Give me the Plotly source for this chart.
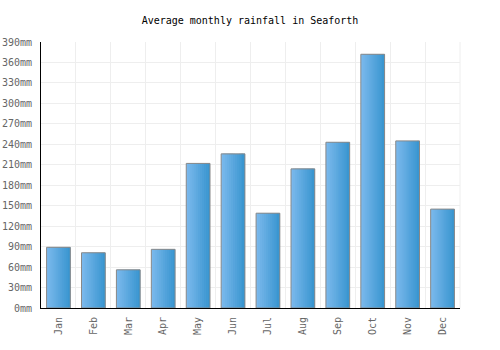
import plotly.graph_objects as go

months = ["Jan", "Feb", "Mar", "Apr", "May", "Jun", "Jul", "Aug", "Sep", "Oct", "Nov", "Dec"]
rainfall = [89, 81, 56, 86, 212, 226, 139, 204, 243, 372, 245, 145]
y_ticks = list(range(0, 391, 30))
y_labels = [f"{v}mm" for v in y_ticks]

BAR_W = 0.68
N = 12
c0 = (122, 184, 236)
c1 = (58, 150, 208)

fig = go.Figure()
sw = BAR_W / N
for i in range(N):
    t = i / (N - 1)
    col = tuple(round(c0[k] + (c1[k] - c0[k]) * t) for k in range(3))
    w = sw * 2 if i < N - 1 else sw
    fig.add_trace(go.Bar(
        x=months, y=rainfall,
        width=w, offset=-BAR_W / 2 + i * sw,
        marker=dict(color=f"rgb{col}", line=dict(width=0)),
        hoverinfo="skip", showlegend=False,
    ))
fig.add_trace(go.Bar(
    x=months, y=rainfall, width=BAR_W, offset=-BAR_W / 2,
    marker=dict(color="rgba(0,0,0,0)", line=dict(color="#888888", width=1)),
    showlegend=False,
))

font = "DejaVu Sans Mono, monospace"
fig.update_layout(
    width=500, height=350,
    margin=dict(l=41, r=40, t=42, b=42),
    barmode="overlay",
    plot_bgcolor="white", paper_bgcolor="white",
    title=dict(text="Average monthly rainfall in Seaforth", x=0.5, xanchor="center",
               y=1 - 20 / 350, yanchor="middle",
               font=dict(family=font, size=10, color="#000000")),
    font=dict(family=font, size=10, color="#666666"),
)
fig.update_xaxes(
    type="category", tickson="boundaries", showgrid=True, gridcolor="#eeeeee",
    showline=True, linecolor="#000000", linewidth=1, ticks="",
    tickangle=-90, ticklabelstandoff=4, automargin=False,
)
fig.update_yaxes(
    range=[0, 390], tickvals=y_ticks, ticktext=y_labels,
    showgrid=True, gridcolor="#eeeeee", zeroline=False,
    showline=True, linecolor="#000000", linewidth=1, ticks="",
    ticklabelstandoff=6, automargin=False,
)
fig.add_shape(type="line", xref="paper", yref="paper", x0=1, x1=1, y0=0, y1=1,
              line=dict(color="#eeeeee", width=1), layer="below")

fig.write_html("out.html")
